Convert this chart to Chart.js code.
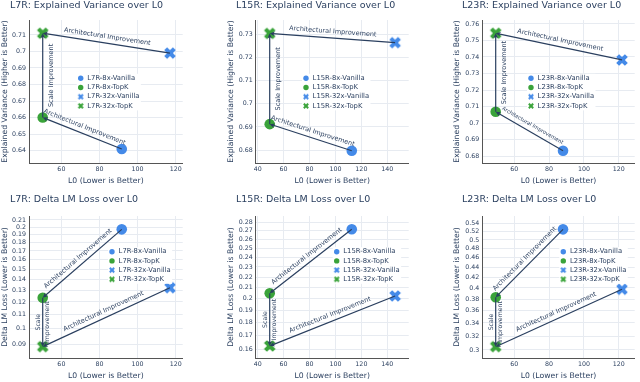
<!DOCTYPE html>
<html>
<head>
<meta charset="utf-8">
<script src="https://cdn.jsdelivr.net/npm/chart.js@4.4.1/dist/chart.umd.min.js"></script>
<style>
  body { margin: 0; background: #fff; }
  #wrap { position: relative; width: 640px; height: 382px; overflow: hidden; }
  #wrap canvas { position: absolute; }
</style>
</head>
<body>
<div id="wrap"></div>
<script>
// series order: 8x-Vanilla, 8x-TopK, 32x-Vanilla, 32x-TopK
const seriesNames = ['8x-Vanilla', '8x-TopK', '32x-Vanilla', '32x-TopK']

// L0 per layer
const l0L7R = [91.7, 50.2, 117, 50.2]
const l0L15R = [112.6, 49.3, 146, 49.3]
const l0L23R = [88, 49.3, 121.9, 49.3]

// explained variance per layer
const evL7R = [0.641, 0.66, 0.699, 0.711]
const evL15R = [0.6797, 0.6912, 0.7264, 0.7304]
const evL23R = [0.6832, 0.7068, 0.7382, 0.7544]

// delta LM loss per layer
const lossL7R = [0.197, 0.1235, 0.1322, 0.0884]
const lossL15R = [0.2716, 0.2048, 0.2024, 0.1624]
const lossL23R = [0.525, 0.383, 0.3976, 0.3046]

// tick labels
const xTicksShort = [60, 80, 100, 120]
const xTicksLong = [40, 60, 80, 100, 120, 140]
const evTicksL7R = [0.64, 0.65, 0.66, 0.67, 0.68, 0.69, 0.7, 0.71]
const evTicksL15R = [0.68, 0.69, 0.7, 0.71, 0.72, 0.73]
const evTicksL23R = [0.68, 0.69, 0.7, 0.71, 0.72, 0.73, 0.74, 0.75, 0.76]
const lossTicksL7R = [0.09, 0.1, 0.11, 0.12, 0.13, 0.14, 0.15, 0.16, 0.17, 0.18, 0.19, 0.2, 0.21]
const lossTicksL15R = [0.16, 0.17, 0.18, 0.19, 0.2, 0.21, 0.22, 0.23, 0.24, 0.25, 0.26, 0.27, 0.28]
const lossTicksL23R = [0.3, 0.32, 0.34, 0.36, 0.38, 0.4, 0.42, 0.44, 0.46, 0.48, 0.5, 0.52, 0.54]

const FONT = "'DejaVu Sans', sans-serif"
const ink = '#2a3f5f'
const blue = 'rgb(68, 138, 232)'
const green = 'rgb(58, 163, 58)'
const markColors = [blue, green, blue, green]

Chart.defaults.font.family = FONT
Chart.defaults.color = ink

// plotly style "x" marker drawn on a small canvas, used as pointStyle
function xMark(color, rx) {
  const c = document.createElement('canvas')
  const s = Math.ceil(rx * 4) + 2
  c.width = s
  c.height = s
  const g = c.getContext('2d')
  g.translate(s / 2, s / 2)
  const pts = [[0, 1], [1, 2], [2, 1], [1, 0], [2, -1], [1, -2], [0, -1], [-1, -2], [-2, -1], [-1, 0], [-2, 1], [-1, 2]]
  g.beginPath()
  pts.forEach(([a, b], i) => i ? g.lineTo(a * rx, b * rx) : g.moveTo(a * rx, b * rx))
  g.closePath()
  g.fillStyle = color
  g.fill()
  return c
}

// grid geometry
const colLeft = [0, 226, 452]
const yAxisW = [29, 29.7, 30.3]
const padRight = [3, 2.3, 2]
const colXRange = [[43, 123.7], [38.5, 156.5], [41.6, 129.2]]
const rowTop = [0, 191]
const padTop = [20, 25]
const padBottom = [5.4, 1.4]
const titleY = [5.5, 8.3]

const panels = [
  { layer: 'L7R', row: 0, col: 0, l0: l0L7R, vals: evL7R, xTicks: xTicksShort, yTicks: evTicksL7R, yMin: 0.6325, yMax: 0.719, legX: 51.7, legY: 58.3, lowSize: 6.5 },
  { layer: 'L15R', row: 0, col: 1, l0: l0L15R, vals: evL15R, xTicks: xTicksLong, yTicks: evTicksL15R, yMin: 0.6744, yMax: 0.7362, legX: 50.3, legY: 58.3, lowSize: 6.5 },
  { layer: 'L23R', row: 0, col: 2, l0: l0L23R, vals: evL23R, xTicks: xTicksShort, yTicks: evTicksL23R, yMin: 0.6758, yMax: 0.7624, legX: 48.7, legY: 58.3, lowSize: 5.2 },
  { layer: 'L7R', row: 1, col: 0, l0: l0L7R, vals: lossL7R, xTicks: xTicksShort, yTicks: lossTicksL7R, yMin: 0.0818, yMax: 0.2158, legX: 83, legY: 35.7, lowSize: 6.5 },
  { layer: 'L15R', row: 1, col: 1, l0: l0L15R, vals: lossL15R, xTicks: xTicksLong, yTicks: lossTicksL15R, yMin: 0.154, yMax: 0.2879, legX: 81, legY: 35.7, lowSize: 6.5 },
  { layer: 'L23R', row: 1, col: 2, l0: l0L23R, vals: lossL23R, xTicks: xTicksShort, yTicks: lossTicksL23R, yMin: 0.289, yMax: 0.5586, legX: 81, legY: 35.7, lowSize: 6.5 }
]

function drawArrow(ctx, x0, y0, x1, y1) {
  const ang = Math.atan2(y1 - y0, x1 - x0)
  ctx.beginPath()
  ctx.moveTo(x0, y0)
  ctx.lineTo(x1 - 3 * Math.cos(ang), y1 - 3 * Math.sin(ang))
  ctx.stroke()
  ctx.save()
  ctx.translate(x1, y1)
  ctx.rotate(ang)
  ctx.beginPath()
  ctx.moveTo(0, 0)
  ctx.lineTo(-5, -2.4)
  ctx.lineTo(-3.6, 0)
  ctx.lineTo(-5, 2.4)
  ctx.closePath()
  ctx.fill()
  ctx.restore()
}

function drawAlong(ctx, x0, y0, x1, y1, lines, off, size) {
  let ang = Math.atan2(y1 - y0, x1 - x0)
  if (ang >= Math.PI / 2 - 1e-6) ang -= Math.PI
  if (ang < -Math.PI / 2 - 1e-6) ang += Math.PI
  ctx.save()
  ctx.translate((x0 + x1) / 2, (y0 + y1) / 2)
  ctx.rotate(ang)
  ctx.font = size + 'px ' + FONT
  ctx.textAlign = 'center'
  ctx.textBaseline = 'middle'
  lines.forEach((t, k) => {
    ctx.fillText(t, 0, off + (k - (lines.length - 1) / 2) * 9)
  })
  ctx.restore()
}

function makePanel(p) {
  const isEV = p.row === 0
  const canvas = document.createElement('canvas')
  canvas.width = 188
  canvas.height = 191
  canvas.style.left = colLeft[p.col] + 'px'
  canvas.style.top = rowTop[p.row] + 'px'
  document.getElementById('wrap').appendChild(canvas)

  const bigX = [null, null, xMark(blue, 2.9), xMark(green, 2.9)]
  const smallX = [null, null, xMark(blue, 1.45), xMark(green, 1.45)]
  const labels = seriesNames.map(n => p.layer + '-' + n)
  const title = p.layer + (isEV ? ': Explained Variance over L0' : ': Delta LM Loss over L0')

  const arrows = [
    { from: 2, to: 3, text: ['Architectural Improvement'], off: -6.5, size: 6.5 },
    { from: 0, to: 1, text: ['Architectural Improvement'], off: -6.5, size: p.lowSize },
    isEV
      ? { from: 1, to: 3, text: ['Scale Improvement'], off: 9, size: 6.5 }
      : { from: 1, to: 3, text: ['Scale', 'Improvement'], off: 0, size: 6.2 }
  ]

  const decor = {
    id: 'decor',
    afterDatasetsDraw(chart) {
      const { ctx } = chart
      const px = i => chart.scales.x.getPixelForValue(p.l0[i])
      const py = i => chart.scales.y.getPixelForValue(p.vals[i])
      ctx.save()
      ctx.strokeStyle = ink
      ctx.fillStyle = ink
      ctx.lineWidth = 1.2
      arrows.forEach(a => {
        drawArrow(ctx, px(a.from), py(a.from), px(a.to), py(a.to))
        drawAlong(ctx, px(a.from), py(a.from), px(a.to), py(a.to), a.text, a.off, a.size)
      })
      ctx.restore()
    },
    afterDraw(chart) {
      const { ctx, chartArea } = chart
      ctx.save()
      // panel title
      ctx.fillStyle = ink
      ctx.font = '9.5px ' + FONT
      ctx.textBaseline = 'middle'
      ctx.textAlign = 'left'
      ctx.fillText(title, 10, titleY[p.row])
      // legend inside the plot
      const lx = chartArea.left + p.legX
      const ly = chartArea.top + p.legY
      ctx.font = '6.8px ' + FONT
      const tw = Math.max(...labels.map(t => ctx.measureText(t).width))
      ctx.fillStyle = '#fff'
      ctx.fillRect(lx - 4, ly - 4.5, tw + 12, 3 * 9.2 + 9)
      labels.forEach((t, i) => {
        const yy = ly + i * 9.2
        if (smallX[i]) {
          ctx.drawImage(smallX[i], lx - smallX[i].width / 2, yy - smallX[i].height / 2)
        } else {
          ctx.fillStyle = markColors[i]
          ctx.beginPath()
          ctx.arc(lx, yy, 2.7, 0, Math.PI * 2)
          ctx.fill()
        }
        ctx.fillStyle = ink
        ctx.fillText(t, lx + 6.6, yy)
      })
      ctx.restore()
    }
  }

  const fmt = v => String(+(+v).toFixed(2))

  new Chart(canvas, {
    type: 'scatter',
    data: {
      datasets: labels.map((lab, i) => ({
        label: lab,
        data: [{ x: p.l0[i], y: p.vals[i] }],
        backgroundColor: markColors[i],
        borderWidth: 0,
        pointStyle: bigX[i] || 'circle',
        pointRadius: 5.3,
        pointHoverRadius: 5.3
      }))
    },
    options: {
      responsive: false,
      animation: false,
      events: [],
      layout: {
        padding: { left: 0, top: padTop[p.row], right: padRight[p.col], bottom: padBottom[p.row] }
      },
      plugins: {
        legend: { display: false },
        tooltip: { enabled: false }
      },
      scales: {
        x: {
          type: 'linear',
          min: colXRange[p.col][0],
          max: colXRange[p.col][1],
          afterBuildTicks: s => { s.ticks = p.xTicks.map(v => ({ value: v })) },
          afterFit: s => { s.height = 22.6 },
          ticks: { font: { size: 6.3 }, color: ink, padding: 3, maxRotation: 0, autoSkip: false, callback: v => String(v) },
          grid: { color: '#e7ebf1', drawTicks: false },
          border: { display: true, color: '#555', width: 1 },
          title: { display: true, text: 'L0 (Lower is Better)', font: { size: 7.7 }, color: ink, padding: 0 }
        },
        y: {
          type: isEV ? 'linear' : 'logarithmic',
          min: p.yMin,
          max: p.yMax,
          afterBuildTicks: s => { s.ticks = p.yTicks.map(v => ({ value: v })) },
          afterFit: s => { s.width = yAxisW[p.col] },
          ticks: { font: { size: 6.3 }, color: ink, padding: 3, autoSkip: false, callback: fmt },
          grid: { color: '#e7ebf1', drawTicks: false },
          border: { display: true, color: '#555', width: 1 },
          title: {
            display: true,
            text: isEV ? 'Explained Variance (Higher is Better)' : 'Delta LM Loss (Lower is Better)',
            font: { size: 7.7 }, color: ink, padding: 0
          }
        }
      }
    },
    plugins: [decor]
  })
}

panels.forEach(makePanel)
</script>
</body>
</html>
